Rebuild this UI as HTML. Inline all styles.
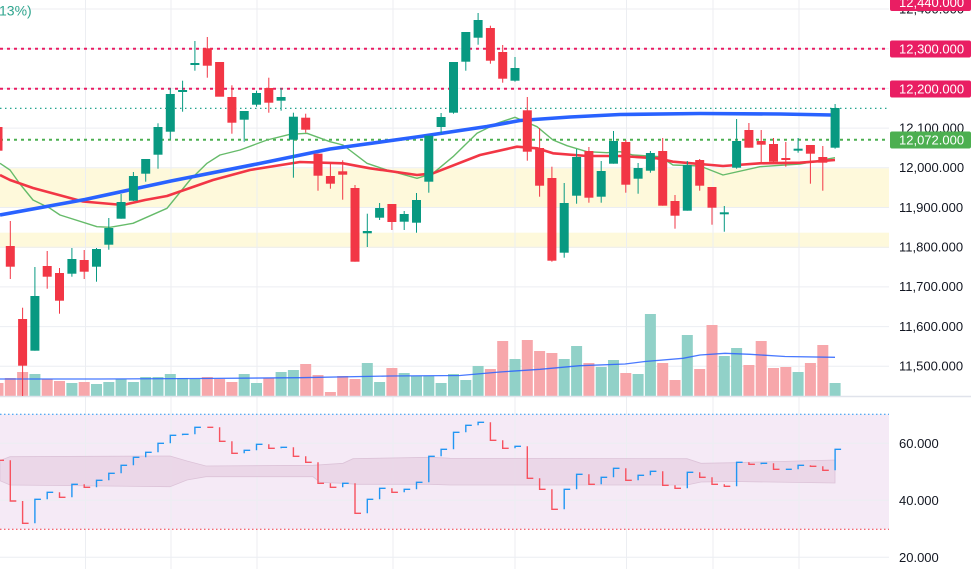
<!DOCTYPE html>
<html><head><meta charset="utf-8"><style>
html,body{margin:0;padding:0;background:#fff;}
svg{display:block;font-family:"Liberation Sans",Arial,sans-serif;}
.g{fill:#089981}.r{fill:#F23645}
.vg{fill:#91d1c8}.vr{fill:#f7a7ab}
.ax{font-size:13px;fill:#131722}
.lb{font-size:13px;fill:#fff}
</style></head><body>
<svg width="971" height="569" viewBox="0 0 971 569" xmlns="http://www.w3.org/2000/svg">
<rect x="0" y="0" width="971" height="569" fill="#fff"/>
<!-- yellow zones -->
<rect x="0" y="168.3" width="889" height="39.7" fill="#fef9db"/>
<rect x="0" y="232.7" width="889" height="15.3" fill="#fef9db"/>
<!-- RSI background -->
<rect x="0" y="414.3" width="889" height="115" fill="#f5eaf6"/>
<!-- grid -->
<g stroke="#eceef2" stroke-width="1">
<line x1="0" y1="9" x2="889" y2="9"/>
<line x1="0" y1="48.7" x2="889" y2="48.7"/>
<line x1="0" y1="88.4" x2="889" y2="88.4"/>
<line x1="0" y1="128.1" x2="889" y2="128.1"/>
<line x1="0" y1="167.8" x2="889" y2="167.8"/>
<line x1="0" y1="207.5" x2="889" y2="207.5"/>
<line x1="0" y1="247.2" x2="889" y2="247.2"/>
<line x1="0" y1="286.9" x2="889" y2="286.9"/>
<line x1="0" y1="326.6" x2="889" y2="326.6"/>
<line x1="0" y1="366.3" x2="889" y2="366.3"/>
<line x1="0" y1="443.3" x2="889" y2="443.3"/>
<line x1="0" y1="500.3" x2="889" y2="500.3"/>
<line x1="0" y1="557.3" x2="889" y2="557.3"/>
<line x1="85.5" y1="0" x2="85.5" y2="569"/>
<line x1="171" y1="0" x2="171" y2="569"/>
<line x1="257" y1="0" x2="257" y2="569"/>
<line x1="393" y1="0" x2="393" y2="569"/>
<line x1="515" y1="0" x2="515" y2="569"/>
<line x1="626.5" y1="0" x2="626.5" y2="569"/>
<line x1="713" y1="0" x2="713" y2="569"/>
<line x1="799" y1="0" x2="799" y2="569"/>
</g>
<!-- horizontal level lines -->
<line x1="0" y1="48.7" x2="889" y2="48.7" stroke="#E91E63" stroke-width="2" stroke-dasharray="3 4"/>
<line x1="0" y1="88.7" x2="889" y2="88.7" stroke="#E91E63" stroke-width="2" stroke-dasharray="3 4"/>
<line x1="0" y1="108.3" x2="889" y2="108.3" stroke="#089981" stroke-width="1.2" stroke-dasharray="1.5 3.5"/>
<line x1="0" y1="139.7" x2="889" y2="139.7" stroke="#4CAF50" stroke-width="2" stroke-dasharray="3 4"/>
<!-- volume bars -->
<g>
<rect class="vr" x="-7.5" y="383" width="11" height="13"/>
<rect class="vr" x="4.8" y="378" width="11" height="18"/>
<rect class="vr" x="17.1" y="372" width="11" height="24"/>
<rect class="vg" x="29.4" y="374" width="11" height="22"/>
<rect class="vr" x="41.7" y="379" width="11" height="17"/>
<rect class="vr" x="54" y="381" width="11" height="15"/>
<rect class="vg" x="66.4" y="383" width="11" height="13"/>
<rect class="vr" x="78.7" y="382" width="11" height="14"/>
<rect class="vg" x="91" y="384" width="11" height="12"/>
<rect class="vg" x="103.3" y="382" width="11" height="14"/>
<rect class="vg" x="115.6" y="379" width="11" height="17"/>
<rect class="vg" x="127.9" y="382" width="11" height="14"/>
<rect class="vg" x="140.2" y="377" width="11" height="19"/>
<rect class="vg" x="152.5" y="377" width="11" height="19"/>
<rect class="vg" x="164.8" y="374" width="11" height="22"/>
<rect class="vg" x="177.1" y="378" width="11" height="18"/>
<rect class="vg" x="189.4" y="379" width="11" height="17"/>
<rect class="vr" x="201.8" y="377" width="11" height="19"/>
<rect class="vr" x="214.1" y="379" width="11" height="17"/>
<rect class="vr" x="226.4" y="382" width="11" height="14"/>
<rect class="vg" x="238.7" y="374" width="11" height="22"/>
<rect class="vg" x="251" y="383" width="11" height="13"/>
<rect class="vr" x="263.3" y="378" width="11" height="18"/>
<rect class="vg" x="275.6" y="372" width="11" height="24"/>
<rect class="vg" x="287.9" y="370" width="11" height="26"/>
<rect class="vr" x="300.2" y="364" width="11" height="32"/>
<rect class="vr" x="312.5" y="375" width="11" height="21"/>
<rect class="vr" x="324.9" y="392" width="11" height="4"/>
<rect class="vr" x="337.2" y="376" width="11" height="20"/>
<rect class="vr" x="349.5" y="379" width="11" height="17"/>
<rect class="vg" x="361.8" y="363" width="11" height="33"/>
<rect class="vg" x="374.1" y="382" width="11" height="14"/>
<rect class="vr" x="386.4" y="368" width="11" height="28"/>
<rect class="vg" x="398.7" y="373" width="11" height="23"/>
<rect class="vg" x="411" y="376" width="11" height="20"/>
<rect class="vg" x="423.3" y="376" width="11" height="20"/>
<rect class="vg" x="435.6" y="383" width="11" height="13"/>
<rect class="vg" x="448" y="374" width="11" height="22"/>
<rect class="vg" x="460.3" y="380" width="11" height="16"/>
<rect class="vg" x="472.6" y="366" width="11" height="30"/>
<rect class="vr" x="484.9" y="369" width="11" height="27"/>
<rect class="vr" x="497.2" y="341" width="11" height="55"/>
<rect class="vg" x="509.5" y="359" width="11" height="37"/>
<rect class="vr" x="521.8" y="340" width="11" height="56"/>
<rect class="vr" x="534.1" y="351" width="11" height="45"/>
<rect class="vr" x="546.4" y="353" width="11" height="43"/>
<rect class="vg" x="558.7" y="359" width="11" height="37"/>
<rect class="vg" x="571.1" y="346" width="11" height="50"/>
<rect class="vr" x="583.4" y="363" width="11" height="33"/>
<rect class="vg" x="595.7" y="367" width="11" height="29"/>
<rect class="vg" x="608" y="360" width="11" height="36"/>
<rect class="vr" x="620.3" y="373" width="11" height="23"/>
<rect class="vg" x="632.6" y="374" width="11" height="22"/>
<rect class="vg" x="644.9" y="314" width="11" height="82"/>
<rect class="vr" x="657.2" y="363" width="11" height="33"/>
<rect class="vr" x="669.5" y="380" width="11" height="16"/>
<rect class="vg" x="681.8" y="335" width="11" height="61"/>
<rect class="vr" x="694.2" y="369" width="11" height="27"/>
<rect class="vr" x="706.5" y="325" width="11" height="71"/>
<rect class="vg" x="718.8" y="356" width="11" height="40"/>
<rect class="vg" x="731.1" y="348" width="11" height="48"/>
<rect class="vr" x="743.4" y="365" width="11" height="31"/>
<rect class="vr" x="755.7" y="341" width="11" height="55"/>
<rect class="vr" x="768" y="368" width="11" height="28"/>
<rect class="vr" x="780.3" y="367" width="11" height="29"/>
<rect class="vg" x="792.6" y="372" width="11" height="24"/>
<rect class="vr" x="804.9" y="363" width="11" height="33"/>
<rect class="vr" x="817.3" y="345" width="11" height="51"/>
<rect class="vg" x="829.6" y="383" width="11" height="13"/>
</g>
<!-- volume MA -->
<polyline fill="none" stroke="#2962FF" stroke-opacity="0.85" stroke-width="1.3" points="0,379 100,379 200,378.5 300,377.7 390,376 460,375.5 500,372 540,369.3 580,365.7 625,364 645,361.5 683,358.3 700,355 725,353.3 750,354.3 785,356.5 835,357.3"/>
<!-- pane separator -->
<line x1="0" y1="396.5" x2="971" y2="396.5" stroke="#e0e3eb" stroke-width="1.5"/>
<!-- MAs -->
<polyline fill="none" stroke="#66BB6A" stroke-width="1.4" stroke-linejoin="round" points="0,163.3 10,170 20,184 33,200 50,208.3 60,215 97,226.7 110,227.3 133,223.3 167,208.3 190,180 207,163.3 220,155 240,150 267,140 290,134.3 307,133.3 330,141.7 343,145 367,163.3 387,170 417,178.3 433,173.3 453,156.7 477,133.3 497,123.3 515,117.3 537,126.7 553,140 567,145.7 587,151.7 607,152.7 620,151.7 633,155 660,156.7 673,165 700,166 723,175 760,166.7 800,164 835,157.7"/>
<polyline fill="none" stroke="#F23645" stroke-width="2.6" stroke-linejoin="round" points="0,175 10,180 33,188 83,201.5 123,205 145,200 167,196 213,180 250,170 300,162 343,163.3 370,168.3 417,175 433,173.3 480,155 517,146.7 537,148.3 553,153.3 587,156 620,156 657,158.3 673,161.7 723,166 760,163.3 800,162.7 835,160"/>
<polyline fill="none" stroke="#2962FF" stroke-width="3.6" stroke-linejoin="round" points="0,215 85,199.5 171,181 257,164 330,149 420,136.5 487,126.5 520,120.5 570,117 620,114.5 700,113.5 780,114 832,115"/>
<!-- candles -->
<g>
<rect class="r" x="-6.5" y="127" width="9" height="23.7"/>
<rect class="r" x="9.8" y="221" width="1" height="58"/><rect class="r" x="5.8" y="246" width="9" height="20.7"/>
<rect class="r" x="22.1" y="307.7" width="1" height="88.3"/><rect class="r" x="18.1" y="319" width="9" height="46.7"/>
<rect class="g" x="34.4" y="267" width="1" height="83.7"/><rect class="g" x="30.4" y="296" width="9" height="54.7"/>
<rect class="r" x="46.7" y="251" width="1" height="37.7"/><rect class="r" x="42.7" y="266" width="9" height="10.7"/>
<rect class="r" x="59" y="268" width="1" height="45.7"/><rect class="r" x="55" y="273" width="9" height="27.7"/>
<rect class="g" x="71.4" y="248" width="1" height="28.7"/><rect class="g" x="67.4" y="259" width="9" height="14.7"/>
<rect class="r" x="83.7" y="250" width="1" height="29"/><rect class="r" x="79.7" y="260" width="9" height="11.7"/>
<rect class="g" x="96" y="248" width="1" height="33.7"/><rect class="g" x="92" y="249" width="9" height="17.7"/>
<rect class="g" x="108.3" y="218" width="1" height="31.7"/><rect class="g" x="104.3" y="228" width="9" height="16.7"/>
<rect class="g" x="120.6" y="194" width="1" height="24.7"/><rect class="g" x="116.6" y="202" width="9" height="16.7"/>
<rect class="g" x="132.9" y="172" width="1" height="29"/><rect class="g" x="128.9" y="176" width="9" height="24.7"/>
<rect class="g" x="145.2" y="159" width="1" height="22.7"/><rect class="g" x="141.2" y="159" width="9" height="14.7"/>
<rect class="g" x="157.5" y="123.3" width="1" height="45.4"/><rect class="g" x="153.5" y="127" width="9" height="27.7"/>
<rect class="g" x="169.8" y="88.3" width="1" height="51"/><rect class="g" x="165.8" y="94" width="9" height="37.7"/>
<rect class="g" x="182.1" y="80.7" width="1" height="31"/><rect class="g" x="178.1" y="90" width="9" height="2"/>
<rect class="g" x="194.4" y="41" width="1" height="29.7"/><rect class="g" x="190.4" y="63" width="9" height="2"/>
<rect class="r" x="206.8" y="37" width="1" height="40.7"/><rect class="r" x="202.8" y="48.3" width="9" height="17.4"/>
<rect class="r" x="215.1" y="62" width="9" height="34.7"/>
<rect class="r" x="231.4" y="85.3" width="1" height="48.4"/><rect class="r" x="227.4" y="97" width="9" height="25.7"/>
<rect class="g" x="243.7" y="111" width="1" height="30.7"/><rect class="g" x="239.7" y="111" width="9" height="8.7"/>
<rect class="g" x="256" y="90.7" width="1" height="16"/><rect class="g" x="252" y="93" width="9" height="11.7"/>
<rect class="r" x="268.3" y="77.7" width="1" height="35"/><rect class="r" x="264.3" y="88" width="9" height="14.7"/>
<rect class="g" x="280.6" y="88" width="1" height="22.7"/><rect class="g" x="276.6" y="97" width="9" height="3.7"/>
<rect class="g" x="292.9" y="112.7" width="1" height="65"/><rect class="g" x="288.9" y="116.7" width="9" height="23"/>
<rect class="r" x="305.2" y="113.7" width="1" height="19"/><rect class="r" x="301.2" y="117.7" width="9" height="12"/>
<rect class="r" x="317.5" y="153.7" width="1" height="37"/><rect class="r" x="313.5" y="153.7" width="9" height="22"/>
<rect class="r" x="329.9" y="162.3" width="1" height="26.4"/><rect class="r" x="325.9" y="176" width="9" height="7.7"/>
<rect class="r" x="342.2" y="160.3" width="1" height="39.4"/><rect class="r" x="338.2" y="171.3" width="9" height="3.4"/>
<rect class="r" x="354.5" y="185" width="1" height="76.7"/><rect class="r" x="350.5" y="188" width="9" height="73.7"/>
<rect class="g" x="366.8" y="213.7" width="1" height="33.3"/><rect class="g" x="362.8" y="231" width="9" height="2.3"/>
<rect class="g" x="379.1" y="203" width="1" height="17"/><rect class="g" x="375.1" y="208" width="9" height="9.7"/>
<rect class="r" x="391.4" y="204" width="1" height="26"/><rect class="r" x="387.4" y="204" width="9" height="18"/>
<rect class="g" x="403.7" y="211" width="1" height="19"/><rect class="g" x="399.7" y="214" width="9" height="7.7"/>
<rect class="g" x="416" y="193" width="1" height="39.7"/><rect class="g" x="412" y="200" width="9" height="22.7"/>
<rect class="g" x="428.3" y="135.7" width="1" height="57"/><rect class="g" x="424.3" y="135.7" width="9" height="46"/>
<rect class="g" x="440.6" y="113" width="1" height="20.3"/><rect class="g" x="436.6" y="117" width="9" height="10"/>
<rect class="g" x="453" y="62" width="1" height="51.7"/><rect class="g" x="449" y="62" width="9" height="50.7"/>
<rect class="g" x="465.3" y="32" width="1" height="38.7"/><rect class="g" x="461.3" y="32" width="9" height="29.7"/>
<rect class="g" x="477.6" y="13" width="1" height="31.7"/><rect class="g" x="473.6" y="20" width="9" height="17.7"/>
<rect class="r" x="489.9" y="25.7" width="1" height="38"/><rect class="r" x="485.9" y="28" width="9" height="32.7"/>
<rect class="r" x="502.2" y="45" width="1" height="37.7"/><rect class="r" x="498.2" y="52" width="9" height="26.7"/>
<rect class="g" x="514.5" y="57" width="1" height="24.7"/><rect class="g" x="510.5" y="68" width="9" height="12.7"/>
<rect class="r" x="526.8" y="97" width="1" height="63.7"/><rect class="r" x="522.8" y="110.3" width="9" height="41.4"/>
<rect class="r" x="539.1" y="128" width="1" height="68.7"/><rect class="r" x="535.1" y="148" width="9" height="37.7"/>
<rect class="r" x="551.4" y="166.7" width="1" height="95"/><rect class="r" x="547.4" y="178" width="9" height="82.7"/>
<rect class="g" x="563.7" y="183" width="1" height="74.7"/><rect class="g" x="559.7" y="203" width="9" height="49.7"/>
<rect class="g" x="576.1" y="149" width="1" height="54.7"/><rect class="g" x="572.1" y="157" width="9" height="38.7"/>
<rect class="r" x="588.4" y="147" width="1" height="55.7"/><rect class="r" x="584.4" y="151" width="9" height="46.7"/>
<rect class="g" x="600.7" y="161" width="1" height="41.7"/><rect class="g" x="596.7" y="171" width="9" height="25.7"/>
<rect class="g" x="613" y="131" width="1" height="32.7"/><rect class="g" x="609" y="141" width="9" height="22.7"/>
<rect class="r" x="625.3" y="140" width="1" height="52.7"/><rect class="r" x="621.3" y="142" width="9" height="42.7"/>
<rect class="g" x="637.6" y="163" width="1" height="30.7"/><rect class="g" x="633.6" y="168" width="9" height="10.7"/>
<rect class="g" x="649.9" y="151" width="1" height="21.7"/><rect class="g" x="645.9" y="153" width="9" height="17.7"/>
<rect class="r" x="662.2" y="138" width="1" height="67.7"/><rect class="r" x="658.2" y="151" width="9" height="54.7"/>
<rect class="r" x="674.5" y="195" width="1" height="33.7"/><rect class="r" x="670.5" y="201" width="9" height="14.7"/>
<rect class="g" x="686.8" y="161" width="1" height="49.7"/><rect class="g" x="682.8" y="165" width="9" height="45.7"/>
<rect class="r" x="699.2" y="159" width="1" height="31.7"/><rect class="r" x="695.2" y="160" width="9" height="25.7"/>
<rect class="r" x="711.5" y="187" width="1" height="37.7"/><rect class="r" x="707.5" y="187" width="9" height="20.7"/>
<rect class="g" x="723.8" y="206" width="1" height="25.7"/><rect class="g" x="719.8" y="212.3" width="9" height="2"/>
<rect class="g" x="736.1" y="119" width="1" height="49.7"/><rect class="g" x="732.1" y="141" width="9" height="26.7"/>
<rect class="r" x="748.4" y="123" width="1" height="24.7"/><rect class="r" x="744.4" y="130" width="9" height="17.7"/>
<rect class="r" x="760.7" y="130" width="1" height="33.3"/><rect class="r" x="756.7" y="141" width="9" height="3.7"/>
<rect class="r" x="773" y="138" width="1" height="25.7"/><rect class="r" x="769" y="144" width="9" height="17.7"/>
<rect class="r" x="785.3" y="142" width="1" height="24.7"/><rect class="r" x="781.3" y="158" width="9" height="2"/>
<rect class="g" x="797.6" y="138" width="1" height="14.7"/><rect class="g" x="793.6" y="148.7" width="9" height="2"/>
<rect class="r" x="809.9" y="145" width="1" height="38.7"/><rect class="r" x="805.9" y="145" width="9" height="8.7"/>
<rect class="r" x="822.3" y="146" width="1" height="44.7"/><rect class="r" x="818.3" y="157" width="9" height="5.7"/>
<rect class="g" x="834.6" y="104" width="1" height="44.7"/><rect class="g" x="830.6" y="108" width="9" height="39.7"/>
</g>
<!-- RSI pane -->
<line x1="0" y1="414.3" x2="889" y2="414.3" stroke="#2196F3" stroke-width="1" stroke-dasharray="1.5 2.5"/>
<line x1="0" y1="529.3" x2="889" y2="529.3" stroke="#F23645" stroke-width="1" stroke-dasharray="1.5 2.5"/>
<polygon fill="#e9d4e5" fill-opacity="0.85" stroke="#dcc3d8" stroke-width="0.8" points="0,460.5 10,456.7 170,456 187,461 206,466 313,465.3 343,463.3 353,458.7 430,457.3 450,458.3 687,458.7 701,463.3 735,462.7 835,460 835,483 735,481.5 701,482 687,485 450,485 430,484.3 357,484.3 343,483.3 320,482.3 313,476.7 206,476.7 187,480 170,486.7 10,485 0,480.7"/>
<path fill="none" stroke="#F7525F" stroke-width="1.4" d="M-2 460.3h6 M10.3 460.3V501h6 M22.6 501V523.3h6 M59.5 492.3V497.3h6 M84.2 484.3V487.3h6 M207.3 427.3h6 M219.6 427.3V441.3h6 M231.9 441.3V453.3h6 M268.8 444.3V448.3h6 M293.4 447.3V456.3h6 M305.7 456.3V462.3h6 M318 462.3V483.3h6 M330.4 483.3V487.3h6 M355 483.3V513.3h6 M391.9 488.3V492.3h6 M490.4 422.3V440.3h6 M502.7 440.3V448.3h6 M527.3 446.3V478.3h6 M539.6 478.3V489.3h6 M551.9 489.3V509.3h6 M588.9 474.3V484.3h6 M625.8 468.3V480.3h6 M662.7 471.3V485.3h6 M675 485.3V488.3h6 M699.7 472.3V477.3h6 M712 477.3V484.3h6 M724.3 484.3V486.3h6 M748.9 462.3V464.3h6 M773.5 463.3V469.3h6 M810.4 465.3V466.3h6 M822.8 466.3V470.3h6"/>
<path fill="none" stroke="#2196F3" stroke-width="1.4" d="M34.9 523.3V499.3h6 M47.2 499.3V492.3h6 M71.9 497.3V484.3h6 M96.5 487.3V480.3h6 M108.8 480.3V473.3h6 M121.1 473.3V465.3h6 M133.4 465.3V457.3h6 M145.7 457.3V452.3h6 M158 452.3V443.3h6 M170.3 443.3V435.3h6 M182.6 435.3V434.3h6 M194.9 434.3V427.3h6 M244.2 453.3V450.3h6 M256.5 450.3V444.3h6 M281.1 448.3V447.3h6 M342.7 487.3V483.3h6 M367.3 513.3V499.3h6 M379.6 499.3V488.3h6 M404.2 492.3V489.3h6 M416.5 489.3V482.3h6 M428.8 482.3V456.3h6 M441.1 456.3V449.3h6 M453.5 449.3V432.3h6 M465.8 432.3V425.3h6 M478.1 425.3V422.3h6 M515 448.3V446.3h6 M564.2 509.3V489.3h6 M576.6 489.3V474.3h6 M601.2 484.3V477.3h6 M613.5 477.3V468.3h6 M638.1 480.3V475.3h6 M650.4 475.3V471.3h6 M687.3 488.3V472.3h6 M736.6 486.3V462.3h6 M761.2 464.3V463.3h6 M785.8 469.3h6 M798.1 469.3V465.3h6 M835.1 470.3V449.3h6"/>
<!-- top-left legend fragment -->
<text x="-1" y="15.5" font-size="14" fill="#2fa58e">13%)</text>
<!-- axis labels -->
<text class="ax" x="899" y="13.5">12,400.000</text>
<text class="ax" x="899" y="132.5">12,100.000</text>
<text class="ax" x="899" y="172">12,000.000</text>
<text class="ax" x="899" y="211.8">11,900.000</text>
<text class="ax" x="899" y="251.5">11,800.000</text>
<text class="ax" x="899" y="291.2">11,700.000</text>
<text class="ax" x="899" y="330.9">11,600.000</text>
<text class="ax" x="899" y="370.6">11,500.000</text>
<text class="ax" x="899" y="448">60.000</text>
<text class="ax" x="899" y="505">40.000</text>
<text class="ax" x="899" y="562">20.000</text>
<!-- price tags -->
<rect x="890" y="-6" width="81" height="17" rx="2" fill="#E91E63"/>
<text class="lb" x="899" y="7">12,440.000</text>
<rect x="890" y="40.5" width="81" height="17" rx="2" fill="#E91E63"/>
<text class="lb" x="899" y="53.6">12,300.000</text>
<rect x="890" y="80.5" width="81" height="17" rx="2" fill="#E91E63"/>
<text class="lb" x="899" y="93.6">12,200.000</text>
<rect x="890" y="131.5" width="81" height="17" rx="2" fill="#4CAF50"/>
<text class="lb" x="899" y="144.6">12,072.000</text>
</svg>
</body></html>
